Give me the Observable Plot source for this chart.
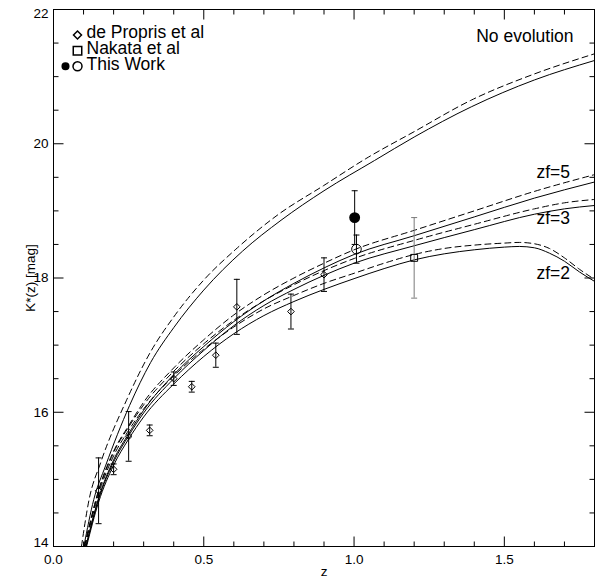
<!DOCTYPE html>
<html>
<head>
<meta charset="utf-8">
<script src="https://cdn.jsdelivr.net/npm/d3@7"></script>
<script src="https://cdn.jsdelivr.net/npm/@observablehq/plot@0.6"></script>
<style>
  body { margin: 0; background: #fff; }
  #chart svg { display: block; background: #fff; font-family: 'Liberation Sans', Arial, Helvetica, sans-serif; }
</style>
</head>
<body>
<div id="chart"></div>
<script>
// ---- Model K*(z) tracks: solid and dashed variants of each model ----
const noEvoSolidZ = [0.101, 0.134, 0.173, 0.253, 0.323, 0.4, 0.5, 0.629, 0.757, 0.9, 1.068, 1.2, 1.39, 1.6, 1.8];
const noEvoSolidK = [14.0, 14.7, 15.2, 16.1, 16.74, 17.26, 17.82, 18.40, 18.86, 19.3, 19.75, 20.1, 20.55, 20.95, 21.24];
const noEvoDashZ = [0.093, 0.118, 0.157, 0.243, 0.323, 0.4, 0.5, 0.607, 0.746, 0.9, 1.04, 1.2, 1.39, 1.6, 1.8];
const noEvoDashK = [14.0, 14.69, 15.25, 16.18, 16.9, 17.42, 17.97, 18.43, 18.94, 19.38, 19.78, 20.18, 20.65, 21.04, 21.34];

const zf5SolidZ = [0.108, 0.15, 0.2, 0.25, 0.3, 0.4, 0.5, 0.6, 0.7, 0.8, 0.9, 1.0, 1.2, 1.4, 1.6, 1.8];
const zf5SolidK = [14.0, 14.72, 15.29, 15.68, 16.03, 16.56, 16.98, 17.35, 17.66, 17.92, 18.15, 18.35, 18.63, 18.91, 19.19, 19.43];
const zf5DashZ = [0.103, 0.15, 0.2, 0.25, 0.3, 0.4, 0.5, 0.6, 0.7, 0.8, 0.9, 1.0, 1.2, 1.4, 1.6, 1.8];
const zf5DashK = [14.0, 14.84, 15.42, 15.80, 16.15, 16.66, 17.08, 17.45, 17.75, 18.0, 18.22, 18.42, 18.71, 19.0, 19.29, 19.54];

const zf3SolidZ = [0.108, 0.15, 0.2, 0.25, 0.3, 0.4, 0.5, 0.6, 0.7, 0.8, 0.9, 1.0, 1.2, 1.4, 1.6, 1.7, 1.8];
const zf3SolidK = [14.0, 14.70, 15.26, 15.65, 15.99, 16.50, 16.92, 17.29, 17.59, 17.83, 18.04, 18.22, 18.48, 18.72, 18.95, 19.03, 19.08];
const zf3DashZ = [0.103, 0.15, 0.2, 0.25, 0.3, 0.4, 0.5, 0.6, 0.7, 0.8, 0.9, 1.0, 1.2, 1.4, 1.6, 1.7, 1.8];
const zf3DashK = [14.0, 14.82, 15.40, 15.78, 16.11, 16.61, 17.02, 17.37, 17.66, 17.90, 18.11, 18.29, 18.56, 18.80, 19.03, 19.12, 19.17];

const zf2SolidZ = [0.11, 0.15, 0.2, 0.25, 0.3, 0.4, 0.5, 0.6, 0.7, 0.8, 0.9, 1.0, 1.1, 1.2, 1.3, 1.4, 1.5, 1.55, 1.6, 1.65, 1.7, 1.75, 1.8];
const zf2SolidK = [14.0, 14.66, 15.21, 15.60, 15.93, 16.42, 16.83, 17.17, 17.44, 17.65, 17.83, 17.99, 18.14, 18.27, 18.36, 18.42, 18.46, 18.47, 18.45, 18.37, 18.25, 18.09, 17.95];
const zf2DashZ = [0.105, 0.15, 0.2, 0.25, 0.3, 0.4, 0.5, 0.6, 0.7, 0.8, 0.9, 1.0, 1.1, 1.2, 1.3, 1.4, 1.5, 1.55, 1.6, 1.65, 1.7, 1.75, 1.8];
const zf2DashK = [14.0, 14.78, 15.35, 15.73, 16.05, 16.54, 16.94, 17.27, 17.54, 17.74, 17.92, 18.07, 18.22, 18.35, 18.44, 18.49, 18.52, 18.53, 18.51, 18.44, 18.30, 18.13, 17.98];

// ---- Observed K* values with 1-sigma errors ----
const deProprisZ = [0.15, 0.2, 0.25, 0.32, 0.4, 0.46, 0.54, 0.61, 0.79, 0.9];
const deProprisK = [14.83, 15.15, 15.64, 15.73, 16.50, 16.38, 16.85, 17.57, 17.50, 18.05];
const deProprisErr = [0.49, 0.08, 0.37, 0.08, 0.10, 0.08, 0.18, 0.41, 0.26, 0.25];

const nakataZ = [1.2];
const nakataK = [18.30];
const nakataErr = [0.60];

const thisWorkFilledZ = [1.002];
const thisWorkFilledK = [18.90];
const thisWorkFilledErr = [0.40];
const thisWorkOpenZ = [1.008];
const thisWorkOpenK = [18.43];
const thisWorkOpenErr = [0.21];

// ---- Axes ----
const xDomain = [0, 1.8];
const yDomain = [14, 22];
const xMajorTicks = [0, 0.5, 1.0, 1.5];
const xMinorTicks = [0.1, 0.2, 0.3, 0.4, 0.6, 0.7, 0.8, 0.9, 1.1, 1.2, 1.3, 1.4, 1.6, 1.7];
const xTickLabels = [0, 0.5, 1.0, 1.5];
const yMajorTicks = [14, 16, 18, 20, 22];
const yMinorTicks = [14.5, 15, 15.5, 16.5, 17, 17.5, 18.5, 19, 19.5, 20.5, 21, 21.5];
const yTickLabelsMid = [16, 18, 20];

// ---- Build tables ----
const toRows = (name, zs, ks) => zs.map((z, i) => ({name, z, k: ks[i]}));
const solidTracks = [
  ...toRows("noevo", noEvoSolidZ, noEvoSolidK),
  ...toRows("zf5", zf5SolidZ, zf5SolidK),
  ...toRows("zf3", zf3SolidZ, zf3SolidK),
  ...toRows("zf2", zf2SolidZ, zf2SolidK)
];
const dashedTracks = [
  ...toRows("noevo", noEvoDashZ, noEvoDashK),
  ...toRows("zf5", zf5DashZ, zf5DashK),
  ...toRows("zf3", zf3DashZ, zf3DashK),
  ...toRows("zf2", zf2DashZ, zf2DashK)
];
const obs = (zs, ks, es) => zs.map((z, i) => ({z, k: ks[i], e: es[i]}));
const dePropris = obs(deProprisZ, deProprisK, deProprisErr);
const nakata = obs(nakataZ, nakataK, nakataErr);
const thisWorkFilled = obs(thisWorkFilledZ, thisWorkFilledK, thisWorkFilledErr);
const thisWorkOpen = obs(thisWorkOpenZ, thisWorkOpenK, thisWorkOpenErr);

// ---- Segment symbols: length in pixels = r ----
const segLen = size => Math.sqrt(size / Math.PI);
const capSymbol = {draw(c, s) { const w = segLen(s); c.moveTo(-w, 0); c.lineTo(w, 0); }};
const tickUp = {draw(c, s) { c.moveTo(0, 0); c.lineTo(0, -segLen(s)); }};
const tickDown = {draw(c, s) { c.moveTo(0, 0); c.lineTo(0, segLen(s)); }};
const tickRight = {draw(c, s) { c.moveTo(0, 0); c.lineTo(segLen(s), 0); }};
const tickLeft = {draw(c, s) { c.moveTo(0, 0); c.lineTo(-segLen(s), 0); }};

const errorBars = (data, color) => [
  Plot.ruleX(data, {x: "z", y1: d => d.k - d.e, y2: d => d.k + d.e, stroke: color, strokeWidth: 1}),
  Plot.dot(data, {x: "z", y: d => d.k + d.e, symbol: capSymbol, r: 3, stroke: color, strokeWidth: 1}),
  Plot.dot(data, {x: "z", y: d => d.k - d.e, symbol: capSymbol, r: 3, stroke: color, strokeWidth: 1})
];

// inward ticks on all four sides of the frame
const tickMarks = (vals, len) => [
  Plot.dot(vals.map(v => ({z: v, k: yDomain[0]})), {x: "z", y: "k", symbol: tickUp, r: len, stroke: "#000", strokeWidth: 1}),
  Plot.dot(vals.map(v => ({z: v, k: yDomain[1]})), {x: "z", y: "k", symbol: tickDown, r: len, stroke: "#000", strokeWidth: 1})
];
const tickMarksY = (vals, len) => [
  Plot.dot(vals.map(v => ({z: xDomain[0], k: v})), {x: "z", y: "k", symbol: tickRight, r: len, stroke: "#000", strokeWidth: 1}),
  Plot.dot(vals.map(v => ({z: xDomain[1], k: v})), {x: "z", y: "k", symbol: tickLeft, r: len, stroke: "#000", strokeWidth: 1})
];

const labelSize = 17.5;
const tickFont = 13.5;

const chart = Plot.plot({
  width: 595,
  height: 579,
  marginTop: 9,
  marginBottom: 33,
  marginLeft: 53,
  marginRight: 1,
  x: {domain: xDomain, axis: null},
  y: {domain: yDomain, axis: null},
  marks: [
    // model tracks
    Plot.line(solidTracks, {x: "z", y: "k", z: "name", stroke: "#000", strokeWidth: 1, curve: "monotone-x"}),
    Plot.line(dashedTracks, {x: "z", y: "k", z: "name", stroke: "#000", strokeWidth: 1, strokeDasharray: "6,4", curve: "monotone-x"}),

    // observations
    ...errorBars(dePropris, "#000"),
    ...errorBars(nakata, "#7a7a7a"),
    ...errorBars(thisWorkFilled, "#000"),
    ...errorBars(thisWorkOpen, "#000"),
    Plot.dot(dePropris, {x: "z", y: "k", symbol: "diamond2", r: 3, stroke: "#000", fill: "none", strokeWidth: 1}),
    Plot.dot(nakata, {x: "z", y: "k", symbol: "square2", r: 4.4, stroke: "#000", fill: "none", strokeWidth: 1}),
    Plot.dot(thisWorkFilled, {x: "z", y: "k", r: 4.7, fill: "#000", stroke: "#000"}),
    Plot.dot(thisWorkOpen, {x: "z", y: "k", r: 4.8, fill: "none", stroke: "#000", strokeWidth: 1}),

    // legend (inside the frame, top left)
    Plot.dot([0], {frameAnchor: "top-left", dx: 24, dy: 25.5, symbol: "diamond2", r: 3.6, stroke: "#000", fill: "none"}),
    Plot.dot([0], {frameAnchor: "top-left", dx: 24, dy: 41.2, symbol: "square2", r: 5.4, stroke: "#000", fill: "none"}),
    Plot.dot([0], {frameAnchor: "top-left", dx: 12, dy: 56.8, r: 3.3, fill: "#000", stroke: "#000"}),
    Plot.dot([0], {frameAnchor: "top-left", dx: 24, dy: 56.8, r: 4.5, fill: "none", stroke: "#000"}),
    Plot.text(["de Propris et al"], {frameAnchor: "top-left", dx: 33, dy: 22.4, text: d => d, textAnchor: "start", lineAnchor: "middle", fontSize: labelSize, fill: "#000"}),
    Plot.text(["Nakata et al"], {frameAnchor: "top-left", dx: 33, dy: 38.7, text: d => d, textAnchor: "start", lineAnchor: "middle", fontSize: labelSize, fill: "#000"}),
    Plot.text(["This Work"], {frameAnchor: "top-left", dx: 33, dy: 54.4, text: d => d, textAnchor: "start", lineAnchor: "middle", fontSize: labelSize, fill: "#000"}),

    // model labels
    Plot.text(["No evolution"], {frameAnchor: "top-right", dx: -21, dy: 27.1, text: d => d, textAnchor: "end", lineAnchor: "middle", fontSize: labelSize, fill: "#000"}),
    Plot.text([{z: 1.607, k: 19.576, t: "zf=5"}, {z: 1.607, k: 18.891, t: "zf=3"}, {z: 1.607, k: 18.07, t: "zf=2"}],
      {x: "z", y: "k", text: "t", textAnchor: "start", lineAnchor: "middle", fontSize: labelSize, fill: "#000"}),

    // frame and inward ticks
    Plot.frame({stroke: "#000"}),
    ...tickMarks(xMajorTicks, 10),
    ...tickMarks(xMinorTicks, 5),
    ...tickMarksY(yMajorTicks, 10),
    ...tickMarksY(yMinorTicks, 5),

    // tick labels
    Plot.text(xTickLabels, {x: d => d, frameAnchor: "bottom", dy: 13, text: d => d3.format(".1f")(d), textAnchor: "middle", lineAnchor: "middle", fontSize: tickFont, fill: "#000"}),
    Plot.text(yTickLabelsMid, {y: d => d, frameAnchor: "left", dx: -5, text: d => String(d), textAnchor: "end", lineAnchor: "middle", fontSize: tickFont, fill: "#000"}),
    Plot.text([22], {y: d => d, frameAnchor: "left", dx: -5, dy: 4.5, text: d => String(d), textAnchor: "end", lineAnchor: "middle", fontSize: tickFont, fill: "#000"}),
    Plot.text([14], {y: d => d, frameAnchor: "left", dx: -5, dy: -4.3, text: d => String(d), textAnchor: "end", lineAnchor: "middle", fontSize: tickFont, fill: "#000"}),

    // axis titles
    Plot.text(["z"], {frameAnchor: "bottom", dy: 25, text: d => d, textAnchor: "middle", lineAnchor: "middle", fontSize: tickFont, fill: "#000"}),
    Plot.text(["K*(z) [mag]"], {frameAnchor: "left", dx: -23, rotate: -90, text: d => d, textAnchor: "middle", lineAnchor: "middle", fontSize: tickFont, fill: "#000"})
  ]
});

document.getElementById("chart").appendChild(chart);
</script>
</body>
</html>
